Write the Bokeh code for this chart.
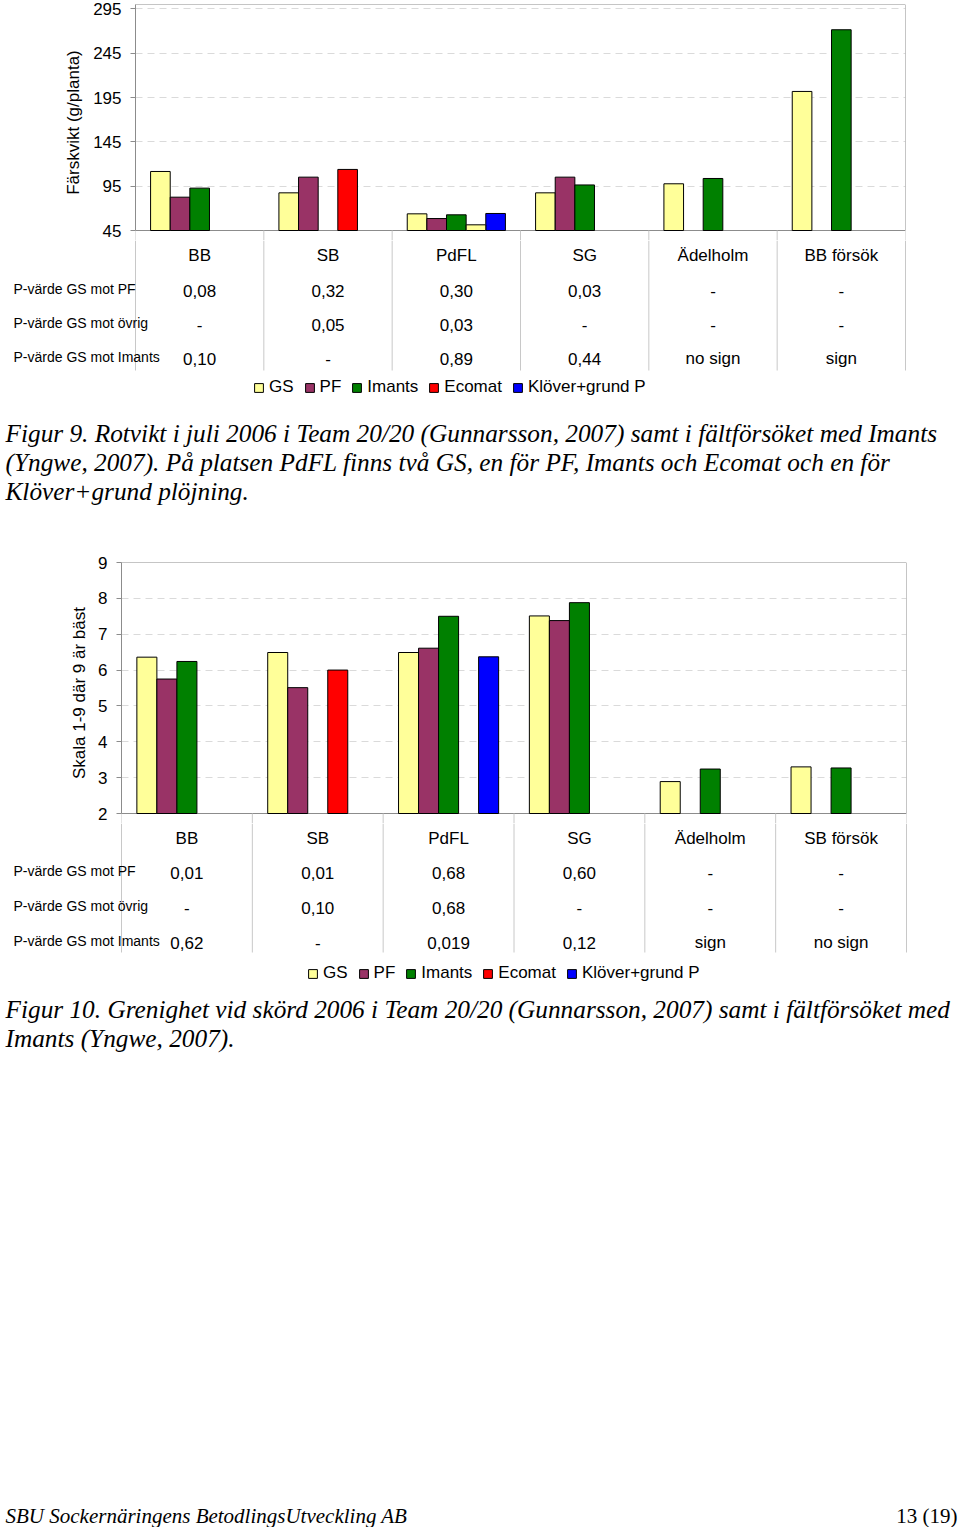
from bokeh.plotting import figure
from bokeh.models import (Range1d, FixedTicker, ColumnDataSource, Legend, LegendItem,
                          LinearScale)
from bokeh.core.properties import value
from bokeh.transform import dodge
from bokeh.layouts import column
from bokeh.embed import file_html
from bokeh.resources import INLINE

nan = float("nan")

# ---------------- data ----------------
series_names = ["GS", "PF", "Imants", "Ecomat", "Klöver+grund P"]
series_colors = ["#FFFF99", "#993366", "#008000", "#FF0000", "#0000FF"]

# Figur 9 - Rotvikt (g/planta)
cats1 = ["BB", "SB", "PdFL", "SG", "Ädelholm", "BB försök"]
gs1 = [111.6, 87.5, 63.8, 87.5, 97.7, 201.9]
pf1 = [82.6, 105.2, 58.5, 105.2, nan, nan]
imants1 = [92.8, nan, 62.7, 96.4, 103.7, 271.5]
ecomat1 = [nan, 113.9, nan, nan, nan, nan]
gs_ecomat1 = [nan, nan, 51.4, nan, nan, nan]   # GS belonging to Ecomat at PdFL
klover1 = [nan, nan, 64.2, nan, nan, nan]
yticks1 = [45, 95, 145, 195, 245, 295]
p1_pf = ["0,08", "0,32", "0,30", "0,03", "-", "-"]
p1_ovrig = ["-", "0,05", "0,03", "-", "-", "-"]
p1_imants = ["0,10", "-", "0,89", "0,44", "no sign", "sign"]

# Figur 10 - Grenighet (skala 1-9)
cats2 = ["BB", "SB", "PdFL", "SG", "Ädelholm", "SB försök"]
gs2 = [6.36, 6.49, 6.49, 7.51, 2.89, 3.30]
pf2 = [5.75, 5.51, 6.61, 7.38, nan, nan]
imants2 = [6.24, nan, 7.50, 7.88, 3.24, 3.27]
ecomat2 = [nan, 6.00, nan, nan, nan, nan]
gs_ecomat2 = [nan, nan, nan, nan, nan, nan]
klover2 = [nan, nan, 6.37, nan, nan, nan]
yticks2 = [2, 3, 4, 5, 6, 7, 8, 9]
p2_pf = ["0,01", "0,01", "0,68", "0,60", "-", "-"]
p2_ovrig = ["-", "0,10", "0,68", "-", "-", "-"]
p2_imants = ["0,62", "-", "0,019", "0,12", "sign", "no sign"]

row_labels = ["P-värde GS mot PF", "P-värde GS mot övrig", "P-värde GS mot Imants"]

caption1 = ["Figur 9. Rotvikt i juli 2006 i Team 20/20 (Gunnarsson, 2007) samt i fältförsöket med Imants",
            "(Yngwe, 2007). På platsen PdFL finns två GS, en för PF, Imants och Ecomat och en för",
            "Klöver+grund plöjning."]
caption2 = ["Figur 10. Grenighet vid skörd 2006 i Team 20/20 (Gunnarsson, 2007) samt i fältförsöket med",
            "Imants (Yngwe, 2007)."]
footer_left = "SBU Sockernäringens BetodlingsUtveckling AB"
footer_right = "13 (19)"

SANS = "Liberation Sans"
SERIF = "Liberation Serif"
STEP = 0.153
GRAY = "#8c8c8c"
LINE = "#c8c8c8"
EXT = 10  # px the chart frame extends below the value axis


def chart_fig(cats, series, gs_extra, y_min, y_max, yticks, ylabel, fig_top, frame,
              ylabel_standoff):
    left, right, top, bottom = frame
    n = len(cats)
    idx = list(range(n))
    per_px = (y_max - y_min) / (bottom - top)
    y_lo = y_min - EXT * per_px
    fig_h = bottom + EXT - fig_top
    p = figure(width=960, height=fig_h, x_range=Range1d(-0.5, n - 0.5),
               y_range=Range1d(y_lo, y_max), output_backend="svg",
               toolbar_location=None, x_axis_location=None, frame_align=False,
               min_border_left=left, min_border_right=960 - right,
               min_border_top=top - fig_top, min_border_bottom=0)
    p.background_fill_color = "white"
    p.border_fill_color = "white"
    p.outline_line_color = None

    # plot-area box
    p.quad(left=[-0.5], right=[n - 0.5], bottom=[y_min], top=[y_max], fill_color=None,
           line_color=GRAY, line_width=1)

    src = ColumnDataSource(dict(xc=idx, **{f"s{k}": v for k, v in enumerate(series)},
                                gsx=gs_extra))
    for k in range(len(series_names)):
        p.vbar(x=dodge("xc", (k - 2) * STEP), top=f"s{k}", bottom=y_min, width=STEP,
               source=src, fill_color=series_colors[k], line_color="black", line_width=1)
    p.vbar(x=dodge("xc", 1 * STEP), top="gsx", bottom=y_min, width=STEP, source=src,
           fill_color=series_colors[0], line_color="black", line_width=1)

    # start of the table's vertical lines
    bx = [i - 0.5 for i in range(n + 1)]
    p.segment(x0=bx, y0=[y_min] * (n + 1), x1=bx, y1=[y_lo] * (n + 1),
              line_color=LINE, line_width=1)

    ax = p.yaxis[0]
    ax.ticker = FixedTicker(ticks=yticks)
    ax.bounds = (y_min, y_max)
    ax.axis_line_color = GRAY
    ax.major_tick_line_color = GRAY
    ax.major_tick_out = 5
    ax.major_tick_in = 0
    ax.minor_tick_line_color = None
    ax.major_label_text_font = SANS
    ax.major_label_text_font_size = "17px"
    ax.major_label_text_color = "black"
    ax.major_label_standoff = 9
    ax.axis_label = ylabel
    ax.axis_label_text_font = SANS
    ax.axis_label_text_font_style = "normal"
    ax.axis_label_text_font_size = "17px"
    ax.axis_label_text_color = "black"
    ax.axis_label_standoff = ylabel_standoff
    p.ygrid.ticker = FixedTicker(ticks=yticks[1:])
    p.ygrid.grid_line_color = "#dadada"
    p.ygrid.grid_line_dash = "7 5"
    p.ygrid.bounds = (-0.5, n - 0.5)
    p.xgrid.grid_line_color = None
    return p


def table_fig(cats, rows, frame, fig_top, fig_bottom, cat_y, row_y, table_bottom,
              legend_x, legend_top, captions, cap_y, footer=None):
    left, right, top, bottom = frame
    n = len(cats)
    idx = list(range(n))
    unit = (right - left) / n
    x_start = -0.5 - left / unit
    x_end = x_start + 960 / unit
    p = figure(width=960, height=fig_bottom - fig_top, x_range=Range1d(x_start, x_end),
               y_range=Range1d(fig_bottom, fig_top), output_backend="svg",
               toolbar_location=None, x_axis_location=None, y_axis_location=None,
               frame_align=False, min_border=0, min_border_left=0, min_border_right=0,
               min_border_top=0, min_border_bottom=0)
    p.extra_x_ranges = {"px": Range1d(0, 960)}
    p.extra_x_scales = {"px": LinearScale()}
    p.background_fill_color = "white"
    p.border_fill_color = "white"
    p.outline_line_color = None
    p.xgrid.grid_line_color = None
    p.ygrid.grid_line_color = None

    bx = [i - 0.5 for i in range(n + 1)]
    p.segment(x0=bx, y0=[fig_top] * (n + 1), x1=bx, y1=[table_bottom] * (n + 1),
              line_color=LINE, line_width=1)

    csrc = ColumnDataSource(dict(xc=idx, cat=cats))
    p.text(x="xc", y=cat_y, text="cat", source=csrc, text_align="center",
           text_baseline="middle", text_font=value(SANS), text_font_size="17px",
           text_color="black")
    for rlabel, vals, ry in zip(row_labels, rows, row_y):
        tsrc = ColumnDataSource(dict(xc=idx, txt=vals))
        p.text(x="xc", y=ry, text="txt", source=tsrc, text_align="center",
               text_baseline="middle", text_font=value(SANS), text_font_size="17px",
               text_color="black")
        p.text(x=[13], y=[ry - 2], text=[rlabel], x_range_name="px", text_align="left",
               text_baseline="middle", text_font=value(SANS), text_font_size="14px",
               text_color="black")

    # legend (proxy renderers without visible points carry the series styles)
    items = []
    for nm, col in zip(series_names, series_colors):
        r = p.vbar(x=[nan], top=[nan], bottom=[nan], width=STEP, fill_color=col,
                   line_color="black", line_width=1)
        items.append(LegendItem(label=nm, renderers=[r]))
    fh = fig_bottom - fig_top
    legend = Legend(items=items, orientation="horizontal",
                    location=(legend_x, fh - (legend_top - fig_top) - 20),
                    glyph_width=11, glyph_height=11, label_standoff=5, spacing=10,
                    padding=0, margin=0, border_line_color=None, background_fill_alpha=0,
                    label_text_font=SANS, label_text_font_size="17px",
                    label_text_color="black", label_height=20)
    p.add_layout(legend)

    p.text(x=[5] * len(captions), y=cap_y, text=captions, x_range_name="px",
           text_align="left", text_baseline="middle", text_font=value(SERIF),
           text_font_style="italic", text_font_size="25.3px", text_color="black")
    if footer is not None:
        fl, fr, fy = footer
        p.text(x=[5], y=[fy], text=[fl], x_range_name="px", text_align="left",
               text_baseline="middle", text_font=value(SERIF), text_font_style="italic",
               text_font_size="21px", text_color="black")
        p.text(x=[957], y=[fy], text=[fr], x_range_name="px", text_align="right",
               text_baseline="middle", text_font=value(SERIF), text_font_size="21px",
               text_color="black")
    return p


frame1 = (135, 905, 4, 230)
frame2 = (121, 906, 562, 813)

p1a = chart_fig(cats1, [gs1, pf1, imants1, ecomat1, klover1], gs_ecomat1, 45, 300, yticks1,
                "Färskvikt (g/planta)", fig_top=0, frame=frame1, ylabel_standoff=7)
p1b = table_fig(cats1, [p1_pf, p1_ovrig, p1_imants], frame1, fig_top=frame1[3] + EXT,
                fig_bottom=540, cat_y=255, row_y=[290, 324, 358], table_bottom=370,
                legend_x=253, legend_top=377, captions=caption1, cap_y=[432, 461, 490])

p2a = chart_fig(cats2, [gs2, pf2, imants2, ecomat2, klover2], gs_ecomat2, 2, 9, yticks2,
                "Skala 1-9 där 9 är bäst", fig_top=540, frame=frame2, ylabel_standoff=6)
p2b = table_fig(cats2, [p2_pf, p2_ovrig, p2_imants], frame2, fig_top=frame2[3] + EXT,
                fig_bottom=1527, cat_y=838, row_y=[872, 907, 942], table_bottom=952,
                legend_x=307, legend_top=963, captions=caption2, cap_y=[1008, 1037],
                footer=(footer_left, footer_right, 1515))

layout = column(p1a, p1b, p2a, p2b, spacing=0)
open("out.html", "w").write(file_html(layout, INLINE))
